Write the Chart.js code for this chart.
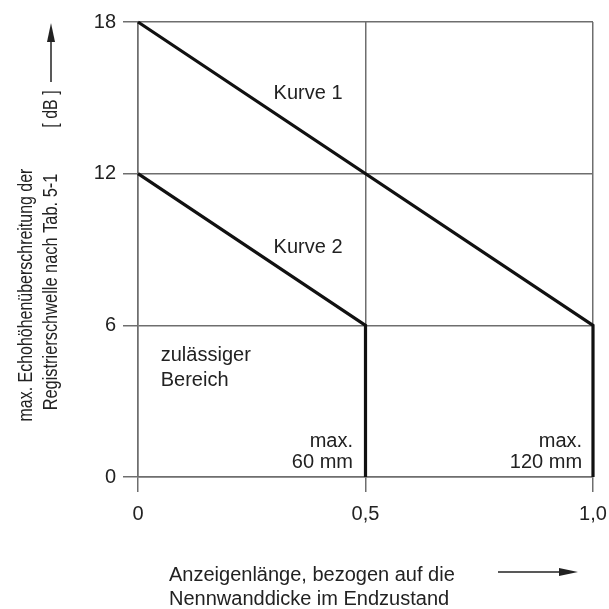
<!DOCTYPE html>
<html>
<head>
<meta charset="utf-8">
<script src="https://cdn.jsdelivr.net/npm/chart.js@4.4.1/dist/chart.umd.min.js"></script>
<style>
  html, body { margin: 0; padding: 0; background: #fff; }
  #chart { display: block; }
</style>
</head>
<body>
<canvas id="chart" width="609" height="609"></canvas>
<script>
// data
const curve1X = [0, 1, 1];
const curve1Y = [18, 6, 0];
const curve2X = [0, 0.5, 0.5];
const curve2Y = [12, 6, 0];
const xTicks = [0, 0.5, 1];
const xTickLabels = ['0', '0,5', '1,0'];
const yTicks = [0, 6, 12, 18];

const yTitle = ['max. Echohöhenüberschreitung der', 'Registrierschwelle nach Tab. 5-1'];
const yUnit = '[ dB ]';
const xTitle = ['Anzeigenlänge, bezogen auf die', 'Nennwanddicke im Endzustand'];

const FONT = "'Liberation Sans', Arial, Helvetica, sans-serif";
const TEXT = '#222';
const GRID = '#6e6e6e';

// labels inside the plot, placed in data units (x, y = baseline)
const notes = [
    { text: 'Kurve 1', x: 0.298, y: 14.95, align: 'left' },
    { text: 'Kurve 2', x: 0.298, y: 8.86, align: 'left' },
    { text: 'zulässiger', x: 0.05, y: 4.59, align: 'left' },
    { text: 'Bereich', x: 0.05, y: 3.60, align: 'left' },
    { text: 'max.', x: 0.4725, y: 1.19, align: 'right' },
    { text: '60 mm', x: 0.4725, y: 0.36, align: 'right' },
    { text: 'max.', x: 0.976, y: 1.19, align: 'right' },
    { text: '120 mm', x: 0.976, y: 0.36, align: 'right' }
];

function toPoints(xs, ys) {
    return xs.map((x, i) => ({ x: x, y: ys[i] }));
}

function arrowHead(ctx, x, y, dir) {
    // dir: 'up' or 'right'
    ctx.beginPath();
    if (dir === 'up') {
        ctx.moveTo(x, y);
        ctx.lineTo(x - 4, y + 19);
        ctx.lineTo(x + 4, y + 19);
    } else {
        ctx.moveTo(x, y);
        ctx.lineTo(x - 19, y - 4);
        ctx.lineTo(x - 19, y + 4);
    }
    ctx.closePath();
    ctx.fill();
}

const textPlugin = {
    id: 'textPlugin',
    afterDraw(chart) {
        const ctx = chart.ctx;
        const xs = chart.scales.x;
        const ys = chart.scales.y;
        const area = chart.chartArea;
        ctx.save();
        ctx.fillStyle = TEXT;
        ctx.strokeStyle = TEXT;
        ctx.font = '20px ' + FONT;
        ctx.textBaseline = 'alphabetic';

        notes.forEach(n => {
            ctx.textAlign = n.align;
            ctx.fillText(n.text, xs.getPixelForValue(n.x), ys.getPixelForValue(n.y));
        });

        // x axis title, two lines, left aligned
        ctx.textAlign = 'left';
        ctx.fillText(xTitle[0], area.left + 31, area.bottom + 104);
        ctx.fillText(xTitle[1], area.left + 31, area.bottom + 128);

        // x arrow
        ctx.lineWidth = 1.5;
        ctx.beginPath();
        ctx.moveTo(area.left + 360, area.bottom + 95);
        ctx.lineTo(area.left + 425, area.bottom + 95);
        ctx.stroke();
        arrowHead(ctx, area.left + 440, area.bottom + 95, 'right');

        // y axis title, rotated and condensed
        const drawV = (txt, bx, cy, size, squeeze) => {
            ctx.save();
            ctx.translate(bx, cy);
            ctx.rotate(-Math.PI / 2);
            ctx.scale(squeeze, 1);
            ctx.font = size + 'px ' + FONT;
            ctx.textAlign = 'center';
            ctx.fillText(txt, 0, 0);
            ctx.restore();
        };
        drawV(yTitle[0], 32, 295, 21, 0.76);
        drawV(yTitle[1], 57, 292, 21, 0.78);
        drawV(yUnit, 57, 109, 21, 0.76);

        // y arrow
        ctx.beginPath();
        ctx.moveTo(51, 82);
        ctx.lineTo(51, 35);
        ctx.stroke();
        arrowHead(ctx, 51, 23, 'up');
        ctx.restore();
    }
};

const ctx = document.getElementById('chart').getContext('2d');
new Chart(ctx, {
    type: 'scatter',
    data: {
        datasets: [
            {
                label: 'Kurve 1',
                data: toPoints(curve1X, curve1Y),
                showLine: true,
                borderColor: '#111',
                borderWidth: 3.2,
                pointRadius: 0,
                borderJoinStyle: 'miter',
                clip: false
            },
            {
                label: 'Kurve 2',
                data: toPoints(curve2X, curve2Y),
                showLine: true,
                borderColor: '#111',
                borderWidth: 3.2,
                pointRadius: 0,
                borderJoinStyle: 'miter',
                clip: false
            }
        ]
    },
    options: {
        responsive: false,
        animation: false,
        events: [],
        layout: { padding: { left: 0, right: 16, top: 22, bottom: 0 } },
        plugins: {
            legend: { display: false },
            tooltip: { enabled: false },
            title: { display: false }
        },
        scales: {
            x: {
                type: 'linear',
                min: 0,
                max: 1,
                afterBuildTicks: s => { s.ticks = xTicks.map(v => ({ value: v })); },
                afterFit: s => { s.height = 132; s.paddingRight = 0; s.paddingLeft = 0; },
                ticks: {
                    color: TEXT,
                    padding: 10,
                    maxRotation: 0,
                    font: { family: FONT, size: 20 },
                    callback: (v) => xTickLabels[xTicks.indexOf(v)]
                },
                grid: { color: GRID, lineWidth: 1.5, tickLength: 15, drawTicks: true },
                border: { display: true, color: GRID, width: 1.5 }
            },
            y: {
                type: 'linear',
                min: 0,
                max: 18,
                afterBuildTicks: s => { s.ticks = yTicks.map(v => ({ value: v })); },
                afterFit: s => { s.width = 138; s.paddingTop = 0; s.paddingBottom = 0; },
                ticks: {
                    color: TEXT,
                    padding: 7,
                    font: { family: FONT, size: 20 },
                    callback: (v) => String(v)
                },
                grid: { color: GRID, lineWidth: 1.5, tickLength: 15, drawTicks: true },
                border: { display: true, color: GRID, width: 1.5 }
            }
        }
    },
    plugins: [textPlugin]
});
</script>
</body>
</html>
